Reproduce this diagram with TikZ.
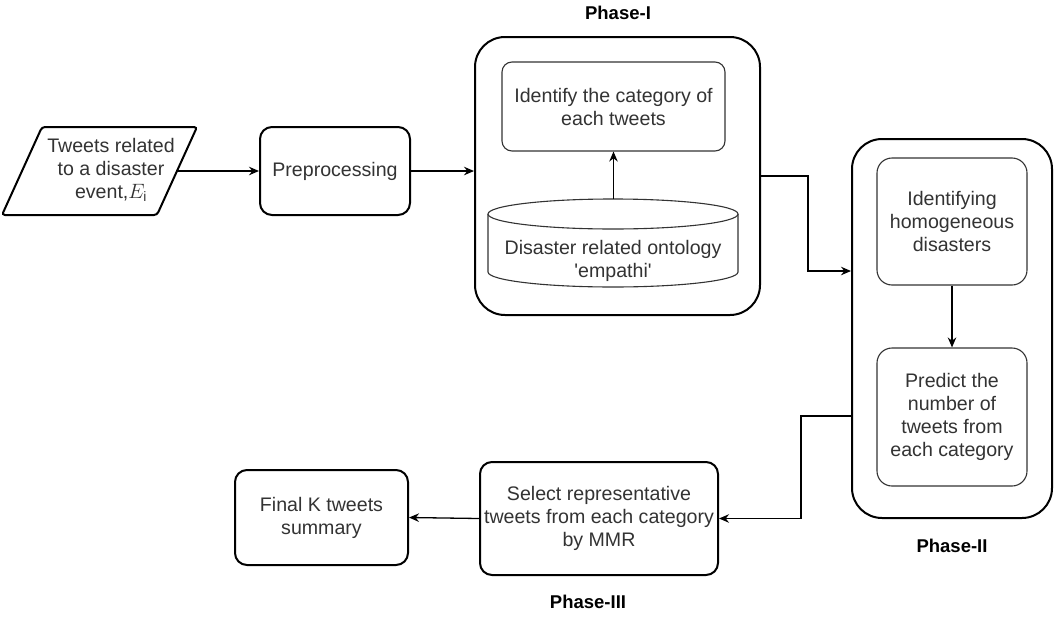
\documentclass[tikz,border=0pt]{standalone}
\usepackage{fontspec}
\setmainfont{Liberation Sans}
\usetikzlibrary{arrows.meta,calc}
\definecolor{txt}{RGB}{51,51,51}
\begin{document}
\begin{tikzpicture}[x=1pt,y=-1pt,
  every node/.style={font=\fontsize{19.6}{23}\selectfont, text=txt, align=center},
  mainbox/.style={draw=black, line width=2pt, rounded corners=12pt, fill=white},
  outerbox/.style={draw=black, line width=2pt, rounded corners=30pt, fill=white},
  innerbox/.style={draw=txt, line width=1.1pt, rounded corners=12pt, fill=white},
  arr/.style={draw=black, line width=1.3pt, -{Stealth[length=10pt,width=8.5pt]}},
  phaselabel/.style={font=\bfseries\fontsize{18.5}{22}\selectfont, text=black}
]
\useasboundingbox (0,0) rectangle (1060,616);

% input parallelogram
\draw[line width=2pt, rounded corners=3pt] (42,127) -- (197,127) -- (157,215) -- (2,215) -- cycle;
\node (tw) at (111,170) {Tweets related\\to a disaster\\event,$E_{\mathrm{i}}$};
\coordinate (twR) at (177,171);

% preprocessing
\node[mainbox, minimum width=150, minimum height=88] (pre) at (335,171) {Preprocessing};

% Phase-I
\node[outerbox, minimum width=285, minimum height=278] (p1) at (617.5,176) {};
\node[phaselabel] (l1) at (618,13) {Phase-I};
\node[innerbox, rounded corners=10pt, minimum width=223, minimum height=89] (cat) at (613.5,106.5) {Identify the category of\\each tweets};
% cylinder
\draw[line width=1.1pt, draw=txt, fill=white] (488,214) -- (488,272) arc[start angle=180, end angle=0, x radius=125, y radius=15] -- (738,214);
\draw[line width=1.1pt, draw=txt, fill=white] (613,214) ellipse [x radius=125, y radius=15];
\node (db) at (613,261) {Disaster related ontology\\\textquotesingle empathi\textquotesingle};
\coordinate (dbtop) at (613.5,199);
\draw[arr] (dbtop) -- (cat.south);

% Phase-II
\node[outerbox, minimum width=200, minimum height=379] (p2) at (952,328.5) {};
\node[phaselabel] (l2) at (952,546) {Phase-II};
\node[innerbox, rounded corners=15pt, minimum width=150, minimum height=127] (hom) at (952,221.5) {Identifying\\homogeneous\\disasters};
\node[innerbox, rounded corners=15pt, minimum width=150, minimum height=138] (pred) at (952,417) {Predict the\\number of\\tweets from\\each category};
\draw[arr] (hom.south) -- (pred.north);

% Phase-III
\node[mainbox, minimum width=238, minimum height=113] (sel) at (599,518.5) {Select representative\\tweets from each category\\by MMR};
\node[phaselabel] (l3) at (588,602) {Phase-III};
\node[mainbox, minimum width=173, minimum height=95] (fin) at (321.5,517.5) {Final K tweets\\summary};

% connectors
\draw[arr] (twR) -- (pre.west |- twR);
\draw[arr] (pre.east) -- (pre.east -| p1.west);
\draw[arr] (p1.east) -- ([xshift=47pt]p1.east) |- ([yshift=57.5pt]p2.west);
\draw[arr] ([yshift=-87.5pt]p2.west) -- ([yshift=-87.5pt, xshift=-50pt]p2.west) |- (sel.east);
\draw[arr] (sel.west) -- (fin.east);
\end{tikzpicture}
\end{document}
